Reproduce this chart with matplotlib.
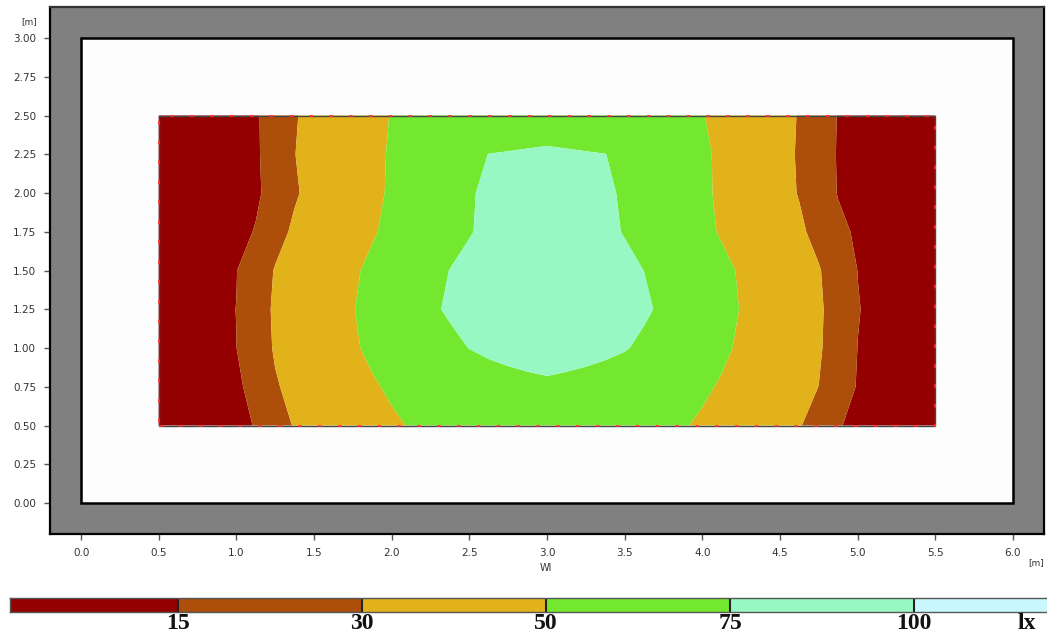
import numpy as np
import matplotlib
matplotlib.use("Agg")
import matplotlib.pyplot as plt
from matplotlib.patches import Rectangle

# ---------------- data ----------------
room_width = 6.0
room_depth = 3.0

grid_x = [0.5, 0.625, 0.75, 0.875, 1.0, 1.125, 1.25, 1.375, 1.5, 1.625, 1.75, 1.875,
          2.0, 2.125, 2.25, 2.375, 2.5, 2.625, 2.75, 2.875, 3.0, 3.125, 3.25, 3.375,
          3.5, 3.625, 3.75, 3.875, 4.0, 4.125, 4.25, 4.375, 4.5, 4.625, 4.75, 4.875,
          5.0, 5.125, 5.25, 5.375, 5.5]
grid_y = [0.5, 0.75, 1.0, 1.25, 1.5, 1.75, 2.0, 2.25, 2.5]

row_050 = [6, 7.9, 9.7, 11.6, 13.5, 15.3, 24.2, 30.9, 34.3, 37.7, 41.1, 44.5, 47.9, 50.8, 52.9, 54.9, 57, 58.3, 59.5, 60.8, 62, 60.8, 59.5, 58.3, 57, 55.0, 53.0, 50.9, 48.1, 44.7, 41.2, 37.8, 34.4, 30.9, 23.9, 15.5, 13.3, 11.5, 9.6, 7.8, 6]
row_075 = [6, 8.0, 10.1, 12.1, 14.2, 16.5, 28.9, 33.3, 37.1, 40.9, 44.7, 48.5, 52.0, 55.3, 58.5, 61.8, 65, 66.3, 67.5, 68.8, 70, 68.8, 67.5, 66.3, 65, 61.8, 58.5, 55.3, 52.1, 48.7, 44.9, 41.2, 37.4, 33.7, 29.9, 21.1, 14.3, 12.3, 10.2, 8.1, 6]
row_100 = [6, 8.2, 10.5, 12.7, 14.9, 23.6, 31.2, 35.5, 39.8, 44.0, 48.3, 52.7, 57.3, 61.8, 66.3, 70.9, 75.3, 78.5, 81.6, 84.8, 88, 85.0, 82.0, 79.0, 76.1, 71.9, 67.0, 62.2, 57.3, 52.5, 48.0, 43.8, 39.7, 35.6, 31.4, 23.9, 14.9, 12.7, 10.5, 8.2, 6]
row_125 = [6, 8.3, 10.5, 12.8, 15.1, 24.4, 31.7, 36.1, 40.6, 45.0, 49.4, 55.0, 60.7, 66.5, 72.3, 77.2, 81.4, 85.5, 89.7, 93.8, 98, 93.9, 89.7, 85.6, 81.4, 77.3, 72.4, 66.6, 60.8, 55.0, 49.4, 45.0, 40.6, 36.2, 31.8, 24.6, 15.4, 12.8, 10.6, 8.3, 6]
row_150 = [6, 8.2, 10.4, 12.5, 14.7, 22.7, 30.8, 35.1, 39.4, 43.7, 48.0, 53.0, 58.6, 64.2, 69.8, 75.3, 79.2, 83.2, 87.1, 91.0, 95, 91.0, 87.0, 82.9, 78.9, 74.9, 69.5, 64.2, 58.9, 53.5, 48.5, 44.1, 39.7, 35.3, 30.9, 23.2, 14.9, 12.7, 10.4, 8.2, 6]
row_175 = [6, 7.9, 9.7, 11.6, 13.5, 15.3, 25.6, 32.1, 36.3, 40.4, 44.5, 48.6, 53.5, 58.6, 63.8, 69.0, 74.1, 78.3, 82.2, 86.1, 90, 86.1, 82.2, 78.3, 74.2, 69.0, 63.8, 58.7, 53.5, 48.7, 44.6, 40.4, 36.3, 32.2, 26.0, 17.4, 13.6, 11.7, 9.8, 7.9, 6]
row_200 = [6, 7.7, 9.3, 11.0, 12.6, 14.2, 17.0, 28.7, 33.7, 38.2, 42.6, 47.0, 51.7, 57.3, 62.9, 68.5, 74.0, 77.0, 79.3, 81.7, 84, 81.6, 79.2, 76.8, 73.6, 68.4, 63.1, 57.8, 52.5, 47.7, 43.1, 38.6, 34.1, 29.3, 20.9, 14.5, 12.8, 11.1, 9.4, 7.7, 6]
row_225 = [6, 7.7, 9.3, 11.0, 12.7, 14.3, 17.5, 29.8, 34.1, 38.4, 42.6, 46.9, 51.3, 56.2, 61.2, 66.1, 71.1, 75.2, 76.1, 77.1, 78, 77.1, 76.1, 75.2, 71.2, 66.5, 61.7, 57.0, 52.3, 47.6, 43.0, 38.5, 33.9, 28.8, 20.2, 14.3, 12.7, 11.0, 9.3, 7.7, 6]
row_250 = [6, 7.7, 9.4, 11.0, 12.7, 14.4, 17.5, 29.1, 33.8, 38.1, 42.4, 46.6, 50.5, 52.9, 55.2, 57.6, 60, 61, 62, 63, 64, 63, 62, 61, 60, 57.6, 55.3, 52.9, 50.5, 46.7, 42.4, 38.2, 33.9, 29.3, 20.9, 14.5, 12.8, 11.1, 9.4, 7.7, 6]

levels = [0, 15, 30, 50, 75, 100, 200]
level_labels = ["15", "30", "50", "75", "100"]
unit_label = "lx"
level_colors = ["#940000", "#AD4F0A", "#E2B21A", "#74E82E", "#98F8C4", "#C8F8FC"]

x_ticks = [0.0, 0.5, 1.0, 1.5, 2.0, 2.5, 3.0, 3.5, 4.0, 4.5, 5.0, 5.5, 6.0]
y_ticks = [0.0, 0.25, 0.5, 0.75, 1.0, 1.25, 1.5, 1.75, 2.0, 2.25, 2.5, 2.75, 3.0]

# ---------------- figure ----------------
W, H = 1047, 636
fig = plt.figure(figsize=(W / 100, H / 100), dpi=100)
fig.patch.set_facecolor("white")

ax = fig.add_axes([50 / W, 1 - 534 / H, (1044 - 50) / W, (534 - 7) / H])
ax.set_facecolor("#808080")
ax.set_xlim(-0.2, 6.2)
ax.set_ylim(-0.2, 3.2)

# room interior
ax.add_patch(Rectangle((0, 0), room_width, room_depth, facecolor="#FDFDFD",
                       edgecolor="black", linewidth=1.8, zorder=1))

Z = np.array([row_050, row_075, row_100, row_125, row_150, row_175, row_200, row_225, row_250])
ax.contourf(grid_x, grid_y, Z, levels=levels, colors=level_colors, zorder=2, antialiased=True)

# calculation area outline
cx0, cx1, cy0, cy1 = grid_x[0], grid_x[-1], grid_y[0], grid_y[-1]
ax.add_patch(Rectangle((cx0, cy0), cx1 - cx0, cy1 - cy0, fill=False,
                       edgecolor="#444444", linewidth=1.0, zorder=3))
ax.add_patch(Rectangle((cx0, cy0), cx1 - cx0, cy1 - cy0, fill=False,
                       edgecolor="#FF3030", linewidth=1.3, linestyle=(0, (2, 9)), zorder=4))

for s in ax.spines.values():
    s.set_color("black")
    s.set_linewidth(1.6)
ax.spines["top"].set_color("#333333")

ax.set_xticks(x_ticks)
ax.set_yticks(y_ticks)
ax.set_xticklabels([f"{v:.1f}" for v in x_ticks])
ax.set_yticklabels([f"{v:.2f}" for v in y_ticks])
ax.tick_params(axis="both", direction="out", length=4, width=1, color="#555555",
               labelsize=7.5, labelcolor="#333333", pad=6)

fig.text(29 / W, 1 - 22 / H, "[m]", ha="center", va="center", fontsize=6.5, color="#333333")
fig.text(1036 / W, 1 - 563 / H, "[m]", ha="center", va="center", fontsize=6.5, color="#333333")
fig.text(546 / W, 1 - 568 / H, "Wl", ha="center", va="center", fontsize=7, color="#333333")

# ---------------- colour legend bar ----------------
cax = fig.add_axes([10 / W, 1 - 612 / H, (W - 10) / W, 14 / H])
seg_start = -6
seg_w = 184.0
cax.set_xlim((10 - seg_start) / seg_w, (W - seg_start) / seg_w)
cax.set_ylim(0, 1)
positions = list(range(len(level_colors)))
cax.barh([0.5] * len(level_colors), [1] * len(level_colors), left=positions, height=1,
         color=level_colors, edgecolor="none")
for b in range(1, len(level_colors)):
    cax.axvline(b, color="#222222", linewidth=1.5)
cax.set_xticks([])
cax.set_yticks([])
for name, s in cax.spines.items():
    s.set_color("#555555")
    s.set_linewidth(1.0)
cax.spines["right"].set_visible(False)

for i, lab in enumerate(level_labels):
    xpx = seg_start + seg_w * (i + 1)
    fig.text(xpx / W, 1 - 613 / H, lab, ha="center", va="top", fontsize=17,
             fontweight="bold", family="Liberation Serif", color="#111111")
fig.text(1027 / W, 1 - 613 / H, unit_label, ha="center", va="top", fontsize=17,
         fontweight="bold", family="Liberation Serif", color="#111111")

fig.savefig("out.png", dpi=100, facecolor="white")
